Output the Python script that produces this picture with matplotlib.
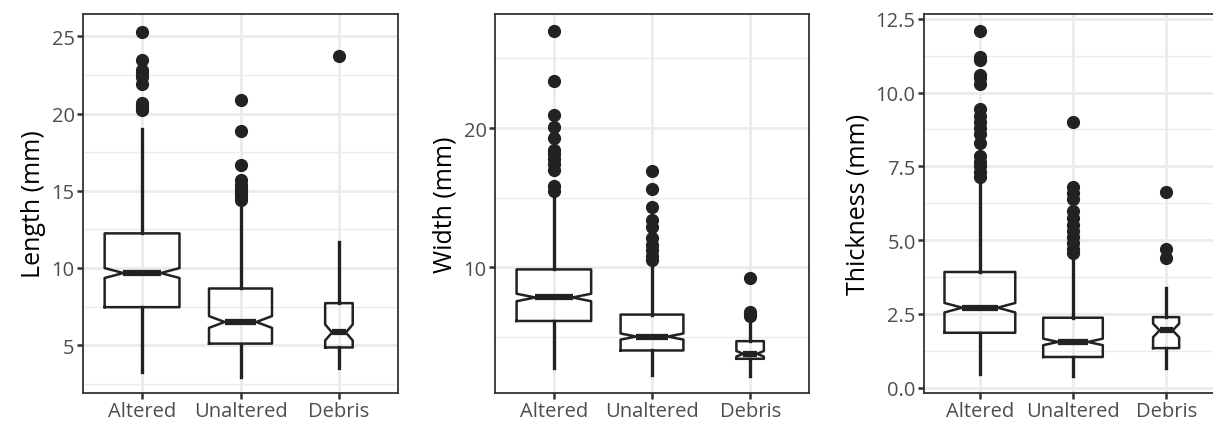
import numpy as np
import matplotlib.pyplot as plt

plt.rcParams['font.family'] = ['Open Sans', 'DejaVu Sans']

groups = ['Altered', 'Unaltered', 'Debris']
box_widths = [0.76, 0.64, 0.28]

# Length (mm): whislo, q1, median, q3, whishi, notch half-width, outliers
length_stats = [
    (3.23, 7.46, 9.67, 12.24, 19.0, 0.32,
     [25.3, 23.5, 22.8, 22.6, 22.4, 21.9, 20.7, 20.5, 20.3, 20.2]),
    (2.95, 5.1, 6.5, 8.67, 13.9, 0.38,
     [20.9, 18.9, 16.7, 15.7, 15.4, 15.2, 15.0, 14.8, 14.6, 14.4]),
    (3.49, 4.85, 5.82, 7.72, 11.66, 0.52, [23.7]),
]
width_stats = [
    (2.73, 6.12, 7.81, 9.83, 15.3, 0.27,
     [27.0, 23.4, 20.9, 20.1, 19.3, 18.4, 18.1, 17.8, 17.4, 17.0, 15.8, 15.5]),
    (2.27, 4.0, 5.0, 6.58, 10.36, 0.22,
     [16.9, 15.6, 14.3, 13.4, 12.9, 12.1, 11.6, 11.2, 10.8, 10.5]),
    (2.13, 3.4, 3.76, 4.67, 6.2, 0.2, [9.2, 6.8, 6.6, 6.5]),
]
thick_stats = [
    (0.45, 1.86, 2.71, 3.92, 7.02, 0.16,
     [12.1, 11.2, 11.1, 10.6, 10.5, 10.3, 9.45, 9.2, 9.0, 8.8, 8.6, 8.3,
      7.85, 7.65, 7.5, 7.3, 7.15]),
    (0.38, 1.04, 1.55, 2.37, 4.31, 0.11,
     [9.0, 6.8, 6.6, 6.4, 6.0, 5.75, 5.5, 5.3, 5.1, 4.9, 4.7, 4.55]),
    (0.67, 1.34, 1.94, 2.39, 3.38, 0.23, [6.63, 4.69, 4.4]),
]

panels = [
    ('Length (mm)', length_stats, (1.9, 26.45), [5, 10, 15, 20, 25],
     np.arange(2.5, 25, 5), '{:.0f}'),
    ('Width (mm)', width_stats, (0.94, 28.2), [10, 20],
     [5, 15, 25], '{:.0f}'),
    ('Thickness (mm)', thick_stats, (-0.18, 12.66), [0, 2.5, 5, 7.5, 10, 12.5],
     np.arange(1.25, 12.5, 2.5), '{:.1f}'),
]
# axes rectangles in figure fraction (left, bottom, width, height)
rects = [(83/1213, 33/427, 315/1213, 379/427),
         (495/1213, 33/427, 314/1213, 379/427),
         (924/1213, 33/427, 298/1213, 379/427)]

dark = '#222222'
fig = plt.figure(figsize=(12.13, 4.27), dpi=100)

for (label, stats, ylim, major, minor, fmt), rect in zip(panels, rects):
    ax = fig.add_axes(rect)
    bstats = []
    for g, s in zip(groups, stats):
        lo, q1, med, q3, hi, nh, fl = s
        bstats.append(dict(label=g, whislo=lo, q1=q1, med=med, q3=q3,
                           whishi=hi, cilo=med - nh, cihi=med + nh, fliers=fl))
    ax.bxp(bstats, positions=[1, 2, 3], widths=box_widths, shownotches=True,
           showcaps=False,
           boxprops=dict(color=dark, linewidth=1.8),
           whiskerprops=dict(color=dark, linewidth=2.4),
           medianprops=dict(color=dark, linewidth=4.5, solid_capstyle='butt'),
           flierprops=dict(marker='o', markerfacecolor=dark, markeredgecolor=dark,
                           markersize=8.5))
    ax.set_xlim(0.4, 3.6)
    ax.set_ylim(*ylim)
    ax.set_yticks(major)
    ax.set_yticklabels([fmt.format(v) for v in major])
    ax.set_yticks(minor, minor=True)
    ax.set_xticks([1, 2, 3])
    ax.set_xticklabels(groups)
    ax.grid(True, which='major', color='#EBEBEB', linewidth=2.0, zorder=0)
    ax.grid(True, which='minor', axis='y', color='#EBEBEB', linewidth=1.0, zorder=0)
    ax.set_axisbelow(True)
    ax.tick_params(which='major', length=4, width=1.8, color='#333333',
                   labelsize=14.5, labelcolor='#4D4D4D', pad=2)
    ax.tick_params(which='minor', length=0)
    for sp in ax.spines.values():
        sp.set_color('#333333')
        sp.set_linewidth(1.3)
    ax.set_ylabel(label, fontsize=18, color='black', labelpad=4)

fig.savefig('out.png', dpi=100)
